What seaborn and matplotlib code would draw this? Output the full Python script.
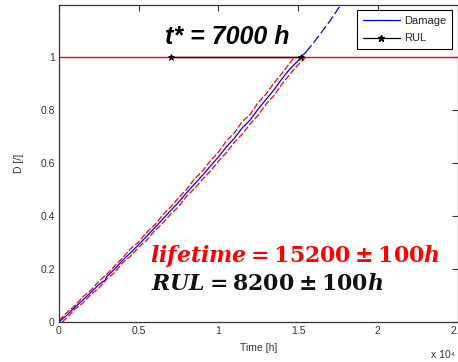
import matplotlib
matplotlib.use("Agg")
import matplotlib.pyplot as plt
from matplotlib.lines import Line2D
import seaborn as sns
import numpy as np

# ---------------- data (time in hours) ----------------
damage_t = [0, 500, 1000, 1500, 2000, 2500, 2900, 3000, 3500, 4000, 4500, 5000,
            5500, 6000, 6500, 7000, 7500, 8000, 8500, 9000, 9500, 10000, 10500,
            11000, 11500, 12000, 12500, 13000, 13500, 14000, 14500, 15000, 15200, 15500]
damage_d = [0.000, 0.026, 0.056, 0.083, 0.112, 0.141, 0.158, 0.172, 0.200, 0.233,
            0.262, 0.292, 0.323, 0.355, 0.387, 0.420, 0.451, 0.487, 0.520, 0.553,
            0.588, 0.622, 0.660, 0.693, 0.732, 0.762, 0.803, 0.840, 0.876, 0.918,
            0.955, 0.985, 1.000, 1.018]

forecast_t = [15500, 16000, 16500, 17000, 17500, 17800]
forecast_d = [1.018, 1.055, 1.095, 1.135, 1.180, 1.205]

upper_t = [0, 500, 1000, 1500, 2000, 2500, 3000, 3500, 4000, 4500, 5000, 5500,
           6000, 6500, 7000, 7500, 8000, 8500, 9000, 9500, 10000, 10500, 11000,
           11500, 12000, 12500, 13000, 13500, 14000, 14500, 14800]
upper_d = [0.006, 0.036, 0.062, 0.095, 0.120, 0.154, 0.180, 0.212, 0.242, 0.277,
           0.302, 0.338, 0.366, 0.403, 0.433, 0.468, 0.500, 0.539, 0.569, 0.608,
           0.640, 0.682, 0.713, 0.756, 0.783, 0.828, 0.860, 0.902, 0.938, 0.978, 1.000]

lower_t = [200, 500, 1000, 1500, 2000, 2500, 3000, 3500, 4000, 4500, 5000, 5500,
           6000, 6500, 7000, 7500, 8000, 8500, 9000, 9500, 10000, 10500, 11000,
           11500, 12000, 12500, 13000, 13500, 14000, 14500, 15000, 15500]
lower_d = [0.000, 0.016, 0.048, 0.072, 0.104, 0.128, 0.162, 0.188, 0.224, 0.249,
           0.282, 0.309, 0.344, 0.372, 0.407, 0.435, 0.474, 0.503, 0.538, 0.569,
           0.606, 0.639, 0.677, 0.709, 0.747, 0.780, 0.822, 0.855, 0.898, 0.935,
           0.970, 1.000]

threshold = 1.0
t_star = 7000
t_end = 15200
rul_t = [t_star, t_end]
rul_d = [threshold, threshold]

x_ticks = [0, 0.5, 1, 1.5, 2, 2.5]
x_ticklabels = ["0", "0.5", "1", "1.5", "2", "2.5"]
y_ticks = [0, 0.2, 0.4, 0.6, 0.8, 1]
y_ticklabels = ["0", "0.2", "0.4", "0.6", "0.8", "1"]
scale = 1e4

# ---------------- style ----------------
sns.set_theme(style="white")
plt.rcParams["font.family"] = ["Liberation Sans", "DejaVu Sans"]
plt.rcParams["mathtext.fontset"] = "custom"
plt.rcParams["mathtext.it"] = "DejaVu Serif:italic:bold"
plt.rcParams["mathtext.rm"] = "DejaVu Serif:bold"
plt.rcParams["mathtext.bf"] = "DejaVu Serif:bold"

fig = plt.figure(figsize=(4.58, 3.62), dpi=100)
ax = fig.add_axes([59 / 458, 1 - 322 / 362, (457.5 - 59) / 458, (322 - 5) / 362])

def s(v):
    return [x / scale for x in v]

dash = (0, (5, 1.6))
sns.lineplot(x=s(upper_t), y=upper_d, color="#ff0000", lw=0.9, linestyle=dash, ax=ax)
sns.lineplot(x=s(lower_t), y=lower_d, color="#ff0000", lw=0.9, linestyle=dash, ax=ax)
sns.lineplot(x=s(damage_t), y=damage_d, color="#0000ff", lw=0.9, ax=ax)
sns.lineplot(x=s(forecast_t), y=forecast_d, color="#0000ff", lw=0.9,
             linestyle=(0, (7, 2.5)), ax=ax)
ax.axhline(threshold, color="#ff0000", lw=1.0, zorder=1)
sns.lineplot(x=s(rul_t), y=rul_d, color="black", lw=1.0, marker="*",
             markersize=5, markeredgewidth=0.6, markeredgecolor="black",
             markerfacecolor="black", ax=ax, zorder=5)

ax.set_xlim(0, 2.5)
ax.set_ylim(0, 1.195)
ax.set_xticks(x_ticks)
ax.set_xticklabels(x_ticklabels)
ax.set_yticks(y_ticks)
ax.set_yticklabels(y_ticklabels)
ax.tick_params(direction="in", length=4, width=0.8, top=True, right=True,
               labelsize=7.5, labelcolor="#333333", color="#333333", pad=3)
for sp in ax.spines.values():
    sp.set_color("#333333")
    sp.set_linewidth(0.9)

ax.set_xlabel("Time [h]", fontsize=7.5, color="#333333", labelpad=5)
ax.set_ylabel("D [/]", fontsize=7.5, color="#333333", labelpad=12)
fig.text(431 / 458, 1 - 355 / 362, "x 10\u2074", fontsize=7.5, color="#333333",
         va="center", ha="left")

ax.text(0.665, 1.075, "t* = 7000 h", fontsize=18, fontweight="bold",
        fontstyle="italic", color="black", ha="left", va="center")
ax.text(0.57, 0.25, r"$lifetime = 15200 \pm 100h$", fontsize=15.8,
        color="#ff0000", ha="left", va="center")
ax.text(0.58, 0.14, r"$RUL = 8200 \pm 100h$", fontsize=15.8,
        color="#111111", ha="left", va="center")

handles = [Line2D([], [], color="#0000ff", lw=0.9),
           Line2D([], [], color="black", lw=0.9, marker="*", markersize=5)]
leg = ax.legend(handles, ["Damage", "RUL"], loc="upper right",
                bbox_to_anchor=(0.986, 0.984), borderaxespad=0, fontsize=8,
                frameon=True, fancybox=False, framealpha=1, edgecolor="black",
                borderpad=0.5, handlelength=3.3, labelspacing=0.7,
                handletextpad=0.4)
leg.get_frame().set_linewidth(0.8)

fig.savefig("out.png", dpi=100)
